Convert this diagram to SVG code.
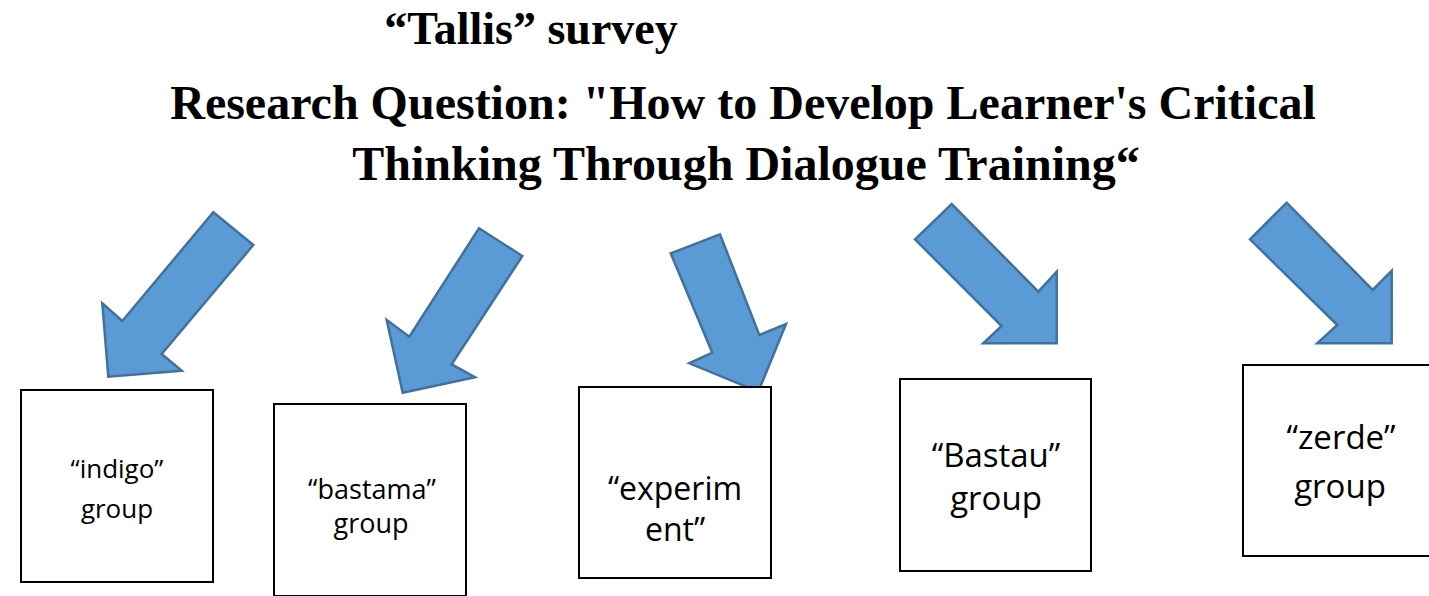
<svg xmlns="http://www.w3.org/2000/svg" width="1429" height="596" viewBox="0 0 1429 596">
<style>
.title{font-family:"Liberation Serif",serif;font-weight:bold;fill:#000;text-anchor:middle}
.box{fill:#fff;stroke:#000;stroke-width:2}
.lbl{font-family:"Open Sans","Liberation Sans",sans-serif;fill:#000;text-anchor:middle}
.arrow{fill:#5B9BD5;stroke:#41719C;stroke-width:2.5;stroke-linejoin:miter}
</style>
<g id="titles">
<text class="title" x="531" y="44" font-size="46">“Tallis” survey</text>
<text class="title" x="743" y="119" font-size="48">Research Question: "How to Develop Learner's Critical</text>
<text class="title" x="746" y="180" font-size="48">Thinking Through Dialogue Training“</text>
</g>
<g id="connectors">
<polygon class="arrow" points="213.3,212.3 253.3,245 161.7,354 181.7,370.7 108.3,376.7 102.3,303.3 122.3,321"/>
<polygon class="arrow" points="479,228.3 522.3,256 451.7,364.3 475,377.3 402.7,392.7 386.7,320 409.3,336.7"/>
<polygon class="arrow" points="670.7,253.3 720,234.3 759.3,335 786,324 758.3,391.7 689.3,363.3 712.3,352.7"/>
<polygon class="arrow" points="915,239.3 951.7,204 1038.3,291.7 1056.7,271.7 1056.7,343.3 983.3,343.3 1001.7,326"/>
<polygon class="arrow" points="1250,239.3 1286.7,202.7 1372.7,290 1391.7,270.7 1391.7,343.3 1317.3,343.3 1337.3,325"/>
</g>
<g id="indigo">
<rect class="box" x="21" y="390" width="192" height="192"/>
<text class="lbl" x="117" y="478" font-size="26">“indigo”</text>
<text class="lbl" x="117" y="518" font-size="26">group</text>
</g>
<g id="bastama">
<rect class="box" x="274" y="404" width="192" height="192"/>
<text class="lbl" x="372" y="499" font-size="27">“bastama”</text>
<text class="lbl" x="371" y="533" font-size="27">group</text>
</g>
<g id="experiment">
<rect class="box" x="579" y="387" width="192" height="191"/>
<text class="lbl" x="675" y="500" font-size="32">“experim</text>
<text class="lbl" x="675" y="541" font-size="32">ent”</text>
</g>
<g id="bastau">
<rect class="box" x="900" y="379" width="191" height="192"/>
<text class="lbl" x="996" y="467" font-size="33">“Bastau”</text>
<text class="lbl" x="996" y="510" font-size="33">group</text>
</g>
<g id="zerde">
<rect class="box" x="1243" y="365" width="192" height="191"/>
<text class="lbl" x="1341" y="449" font-size="33">“zerde”</text>
<text class="lbl" x="1340" y="498" font-size="33">group</text>
</g>
</svg>
